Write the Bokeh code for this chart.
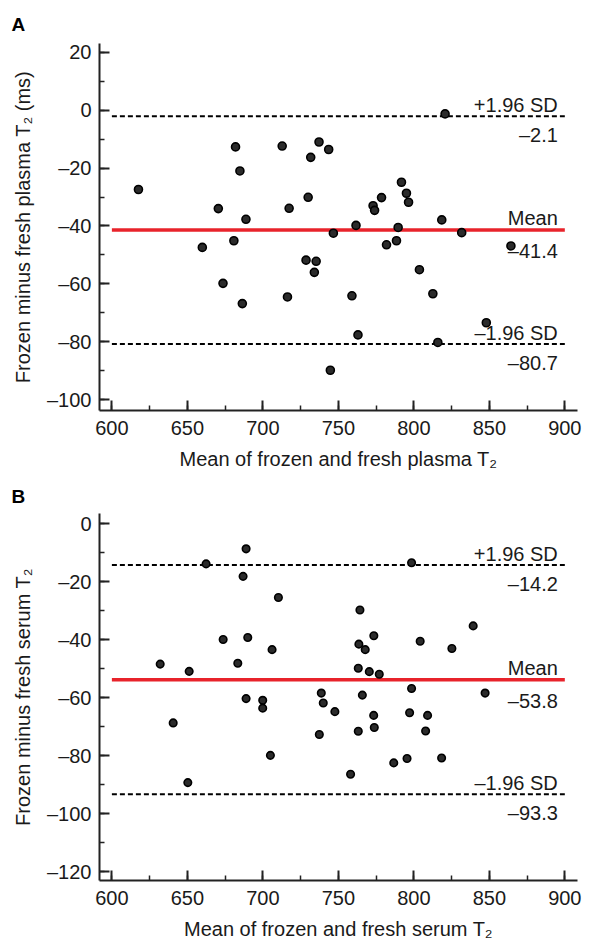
from bokeh.plotting import figure
from bokeh.layouts import column
from bokeh.models import SingleIntervalTicker, Range1d
from bokeh.embed import file_html
from bokeh.resources import INLINE

# ---------------- data ----------------
plasma_mean = [617.6, 659.9, 670.5, 673.6, 680.8, 681.9, 684.8, 686.4, 688.8, 712.8,
               716.3, 717.4, 728.6, 730.0, 731.7, 734.1, 735.3, 737.2, 743.6, 744.7,
               746.7, 759.0, 761.7, 763.0, 773.0, 774.0, 778.6, 781.9, 788.5, 789.6,
               791.8, 795.1, 796.5, 803.7, 812.6, 815.9, 818.5, 820.7, 831.7, 848.0,
               864.3]
plasma_diff = [-27.4, -47.4, -34.0, -59.8, -45.1, -12.7, -21.0, -66.8, -37.7, -12.4,
               -64.5, -33.9, -51.8, -30.1, -16.3, -56.0, -52.2, -11.0, -13.6, -89.8,
               -42.5, -64.1, -39.8, -77.6, -33.0, -34.6, -30.2, -46.5, -45.1, -40.5,
               -24.9, -28.7, -31.8, -55.1, -63.4, -80.2, -37.9, -1.3, -42.3, -73.4,
               -46.9]
serum_mean = [632.0, 640.6, 650.3, 651.2, 662.4, 673.7, 683.4, 686.9, 688.9, 688.9,
              690.0, 699.9, 699.9, 705.0, 706.1, 710.3, 737.4, 738.7, 740.0, 747.7,
              758.1, 763.2, 763.2, 763.6, 764.3, 765.9, 767.8, 770.5, 773.4, 773.5,
              773.8, 777.1, 786.7, 795.5, 797.2, 798.5, 798.5, 804.2, 807.8, 809.1,
              818.4, 825.2, 839.3, 847.2]
serum_diff = [-48.4, -68.7, -89.3, -50.9, -13.8, -39.9, -48.1, -18.1, -8.6, -60.3,
              -39.2, -60.9, -63.6, -79.9, -43.4, -25.4, -72.7, -58.4, -61.8, -64.8,
              -86.4, -49.8, -71.6, -41.5, -29.7, -59.1, -43.4, -51.0, -66.1, -38.6,
              -70.3, -51.9, -82.5, -81.0, -65.2, -13.4, -56.8, -40.5, -71.5, -66.1,
              -80.8, -43.0, -35.2, -58.4]
limit_names = ["+1.96 SD", "Mean", "\u20131.96 SD"]
plasma_limits = [-2.1, -41.4, -80.7]
serum_limits = [-14.2, -53.8, -93.3]
line_start, line_end = 600, 900

FONT = "Liberation Sans"
TXT = "#1a1a1a"


def fmt(v):
    s = ("%g" % abs(v))
    return ("\u2013" + s) if v < 0 else s


def panel(letter, xs, ys, limits, ylab, xlab, yr, height, top, dot, title_gap):
    frame_h = 367
    p = figure(width=591, height=height,
               x_range=Range1d(591.8, 908.4), y_range=Range1d(*yr),
               output_backend="svg", toolbar_location=None,
               min_border_left=99, min_border_right=14,
               min_border_top=top, min_border_bottom=height - top - frame_h)
    p.outline_line_color = None
    p.grid.visible = False
    p.background_fill_color = "white"

    p.title.text = letter
    p.title.align = "left"
    p.title.offset = -88
    p.title.text_font = FONT
    p.title.text_font_size = "19px"
    p.title.text_font_style = "bold"
    p.title.text_color = "black"
    p.title.standoff = title_gap

    p.xaxis.ticker = SingleIntervalTicker(interval=50, num_minor_ticks=2)
    p.yaxis.ticker = SingleIntervalTicker(interval=20, num_minor_ticks=2)
    yt = list(range(-120, 41, 20))
    p.yaxis.major_label_overrides = {v: fmt(v) for v in yt}
    for ax in (p.xaxis, p.yaxis):
        ax.axis_line_width = 2
        ax.axis_line_color = "#222222"
        ax.major_tick_in = 10
        ax.major_tick_out = 0
        ax.minor_tick_in = 5
        ax.minor_tick_out = 0
        ax.major_tick_line_width = 2
        ax.minor_tick_line_width = 1.5
        ax.major_tick_line_color = "#222222"
        ax.minor_tick_line_color = "#222222"
        ax.major_label_text_font = FONT
        ax.major_label_text_font_size = "20px"
        ax.major_label_text_color = TXT
        ax.axis_label_text_font = FONT
        ax.axis_label_text_font_size = "20px"
        ax.axis_label_text_font_style = "normal"
        ax.axis_label_text_color = TXT
        ax.axis_label_standoff = 10
    p.xaxis.major_label_standoff = 10
    p.yaxis.major_label_standoff = 8
    p.xaxis.axis_label = xlab
    p.yaxis.axis_label = ylab

    # limit lines
    styles = [("black", 2, "5 3"), ("#e8232b", 3.5, "solid"), ("black", 2, "5 3")]
    for v, (c, w, d) in zip(limits, styles):
        p.segment(x0=[line_start], x1=[line_end], y0=[v], y1=[v],
                  line_color=c, line_width=w, line_dash=d)

    p.scatter(xs, ys, size=dot, fill_color="#2b2b2b", line_color="black",
              line_width=1.6)

    p.text(x=[line_end] * 3, y=limits, text=limit_names,
           x_offset=-7, y_offset=[-11, -12, -11],
           text_align="right", text_baseline="alphabetic",
           text_font={"value": FONT}, text_font_size="20px", text_color=TXT)
    p.text(x=[line_end] * 3, y=limits, text=[fmt(v) for v in limits],
           x_offset=-7, y_offset=[18.5, 21, 19],
           text_align="right", text_baseline="alphabetic",
           text_font={"value": FONT}, text_font_size="20px", text_color=TXT)
    return p


pA = panel("A", plasma_mean, plasma_diff, plasma_limits,
           "Frozen minus fresh plasma T\u2082 (ms)",
           "Mean of frozen and fresh plasma T\u2082",
           (-103.7, 23.0), 475, 43, 8, 18)
pB = panel("B", serum_mean, serum_diff, serum_limits,
           "Frozen minus fresh serum T\u2082",
           "Mean of frozen and fresh serum T\u2082",
           (-123.1, 3.6), 475, 38, 7.5, 14)

layout = column(pA, pB, spacing=0)
open("out.html", "w").write(file_html(layout, INLINE))
